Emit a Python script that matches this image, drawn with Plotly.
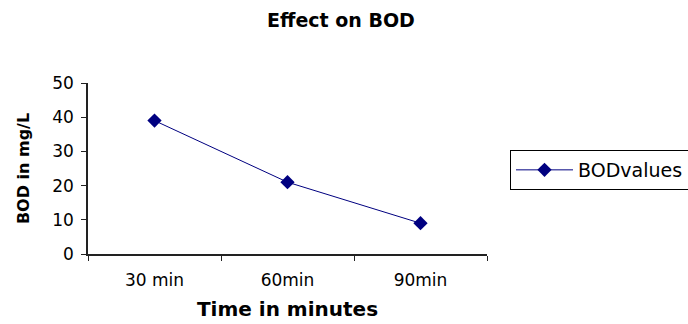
import plotly.graph_objects as go

categories = ["30 min", "60min", "90min"]
bod_values = [39, 21, 9]
series_name = "BODvalues"
title_text = "Effect on BOD"
x_title = "Time in minutes"
y_title = "BOD in mg/L"

fig = go.Figure()
fig.add_trace(go.Scatter(
    x=categories, y=bod_values, name=series_name, mode="lines+markers",
    line=dict(color="#000080", width=1),
    marker=dict(symbol="diamond", size=11, color="#000080"),
    showlegend=True,
))

font_family = "DejaVu Sans, Arial, sans-serif"
fig.update_layout(
    width=688, height=324,
    margin=dict(l=88, r=201, t=83, b=70),
    paper_bgcolor="white", plot_bgcolor="white",
    font=dict(family=font_family, size=17, color="black"),
    title=dict(text="<b>" + title_text + "</b>", x=341/688, xanchor="center",
               y=1 - 20/324, yanchor="middle", font=dict(size=19)),
    showlegend=True,
    legend=dict(xref="container", yref="container",
                x=510 / 688, xanchor="left", y=1 - 150 / 324, yanchor="top",
                bordercolor="black", borderwidth=1, bgcolor="white",
                font=dict(size=19), itemwidth=57,
                tracegroupgap=0),
    xaxis=dict(
        type="category", range=[-0.5, 2.5], tickson="boundaries",
        showline=True, linecolor="#222222", linewidth=1.5,
        ticks="outside", ticklen=5, tickcolor="#222222",
        showgrid=False, zeroline=False,
        tickfont=dict(size=17), ticklabelstandoff=10,
        title=dict(text="<b>" + x_title + "</b>", standoff=13, font=dict(size=20)),
        automargin=False,
    ),
    yaxis=dict(
        range=[0, 50], dtick=10,
        showline=True, linecolor="#222222", linewidth=1.5,
        ticks="outside", ticklen=5, tickcolor="#222222",
        showgrid=False, zeroline=False,
        tickfont=dict(size=17), ticklabelstandoff=4,
        title=dict(text="<b>" + y_title + "</b>", standoff=19, font=dict(size=16)),
        automargin=False,
    ),
)

fig.write_html("out.html")
